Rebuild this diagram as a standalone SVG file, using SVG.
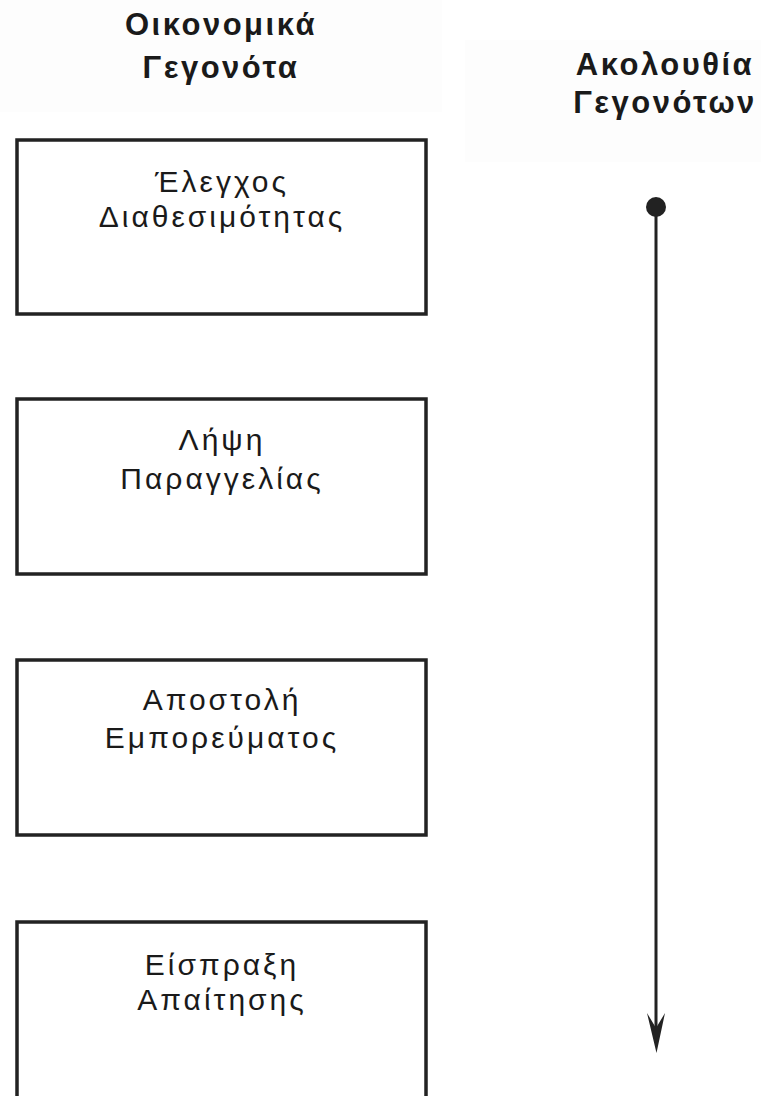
<svg xmlns="http://www.w3.org/2000/svg" width="761" height="1096" viewBox="0 0 761 1096">
<style>
.hdr{font-family:"Liberation Sans",Arial,sans-serif;font-weight:bold;font-size:31px;letter-spacing:2.5px;fill:#1a1a1a;text-anchor:middle}
.lbl{font-family:"Liberation Sans",Arial,sans-serif;font-size:30px;letter-spacing:3px;fill:#1a1a1a;text-anchor:middle}
.box{fill:#ffffff;stroke:#222222;stroke-width:3.5}
.conn{stroke:#222222;stroke-width:3;fill:none}
</style>
<rect width="761" height="1096" fill="#ffffff"/>
<rect x="0" y="0" width="442" height="112" fill="#fdfdfd"/>
<rect x="465" y="40" width="296" height="122" fill="#fdfdfd"/>
<g id="header-left">
<text class="hdr" x="221" y="35">Οικονομικά</text>
<text class="hdr" x="221" y="78">Γεγονότα</text>
</g>
<g id="header-right">
<text class="hdr" x="665" y="75">Ακολουθία</text>
<text class="hdr" x="665" y="113">Γεγονότων</text>
</g>
<g id="node-1">
<rect class="box" x="17" y="140" width="409" height="174"/>
<text class="lbl" x="222" y="192">Έλεγχος</text>
<text class="lbl" x="222" y="227">Διαθεσιμότητας</text>
</g>
<g id="node-2">
<rect class="box" x="17" y="399" width="409" height="175"/>
<text class="lbl" x="222" y="450">Λήψη</text>
<text class="lbl" x="222" y="489">Παραγγελίας</text>
</g>
<g id="node-3">
<rect class="box" x="17" y="660" width="409" height="175"/>
<text class="lbl" x="222" y="710">Αποστολή</text>
<text class="lbl" x="222" y="748">Εμπορεύματος</text>
</g>
<g id="node-4">
<rect class="box" x="17" y="922" width="409" height="190"/>
<text class="lbl" x="222" y="975">Είσπραξη</text>
<text class="lbl" x="222" y="1010">Απαίτησης</text>
</g>
<g id="connectors">
<circle cx="656" cy="207" r="10" fill="#222222"/>
<line class="conn" x1="656" y1="207" x2="656" y2="1035"/>
<polygon points="647,1013 656,1028 665,1013 656.5,1053" fill="#222222"/>
</g>
</svg>
